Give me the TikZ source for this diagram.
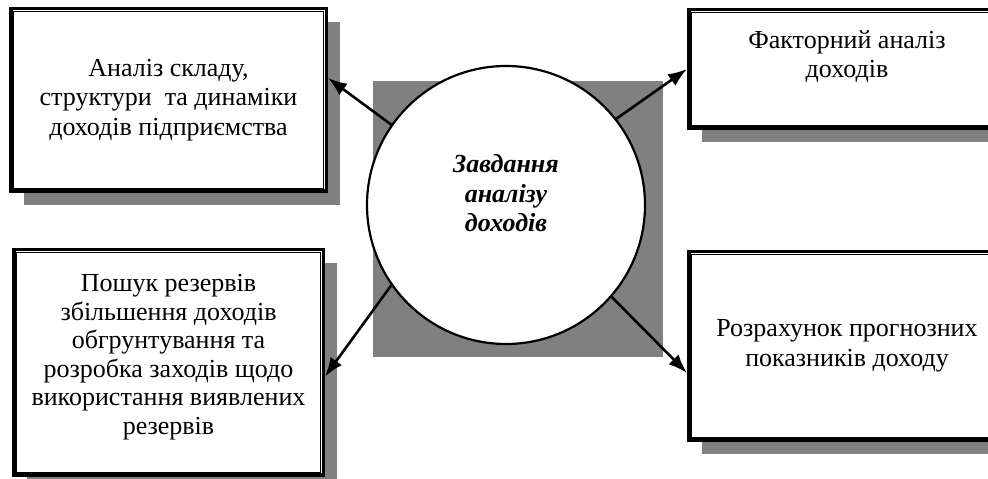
\documentclass[tikz,border=0pt]{standalone}
\usepackage{fontspec}
\setmainfont{Liberation Serif}
\usetikzlibrary{arrows.meta,shadows}

\definecolor{shadowgray}{HTML}{808080}

\tikzset{
    taskbox/.style={draw, line width=3.5pt, fill=white, inner sep=0pt, align=center,
        font=\fontsize{26}{29.5}\selectfont,
        drop shadow={shadow xshift=13.5pt, shadow yshift=-13.5pt, fill=shadowgray, opacity=1}},
    goal/.style={circle, draw, line width=2.2pt, fill=white, minimum size=278pt, inner sep=0pt,
        align=center, font=\fontsize{26}{29.5}\selectfont\bfseries\itshape},
    taskarrow/.style={line width=2.6pt, -{Latex[length=19pt,width=14pt]}}
}

\newcommand{\innerframe}[1]{\draw[line width=1.2pt] ([xshift=4.4pt,yshift=-4.4pt]#1.north west) rectangle ([xshift=-4.4pt,yshift=4.4pt]#1.south east);}

\begin{document}
\begin{tikzpicture}[x=1pt, y=1pt]
    \clip (0,0) rectangle (988,479);

    \fill[shadowgray] (373,122) rectangle (663,398);
    \node[goal] (goal) at (506,274) {Завдання\\аналізу\\доходів\\[-6pt]};

    \node[taskbox, minimum width=315.5pt, minimum height=182.5pt] (struct) at (168.5,379)
        {Аналіз складу,\\структури \ та динаміки\\доходів підприємства};
    \innerframe{struct}

    \node[taskbox, minimum width=316.5pt, minimum height=118.5pt] (factor) at (847,410)
        {Факторний аналіз\\доходів\\\mbox{}};
    \innerframe{factor}

    \node[taskbox, minimum width=309.5pt, minimum height=225.5pt, font=\fontsize{26}{28.5}\selectfont] (reserve) at (168.5,116.5)
        {Пошук резервів\\збільшення доходів\\обгрунтування та\\розробка заходів щодо\\використання виявлених\\резервів\\[-12pt]};
    \innerframe{reserve}

    \node[taskbox, minimum width=316.5pt, minimum height=188.5pt] (forecast) at (847,133)
        {Розрахунок прогнозних\\показників доходу};
    \innerframe{forecast}

    \draw[taskarrow] (goal.145) -- ([yshift=22pt]struct.east);
    \draw[taskarrow] (goal.38) -- (factor.west);
    \draw[taskarrow] (goal.215) -- ([yshift=-14pt]reserve.east);
    \draw[taskarrow] (goal.319) -- ([yshift=-27pt]forecast.west);

\end{tikzpicture}
\end{document}
